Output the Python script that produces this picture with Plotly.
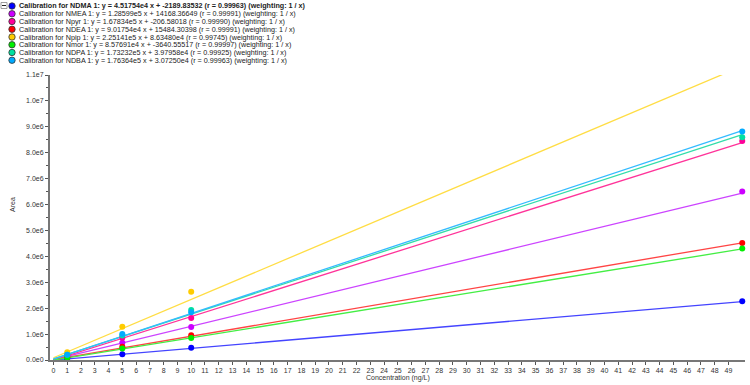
import plotly.graph_objects as go

# ---------------- data ----------------
names = ["NDMA", "NMEA", "Npyr", "NDEA", "Npip", "Nmor", "NDPA", "NDBA"]
slope_str = ["4.51754e4", "1.28599e5", "1.67834e5", "9.01754e4", "2.25141e5", "8.57691e4", "1.73232e5", "1.76364e5"]
intercept_str = ["-2189.83532", "14168.36649", "-206.58018", "15484.30398", "8.63480e4", "-3640.55517", "3.97958e4", "3.07250e4"]
r_str = ["0.99963", "0.99991", "0.99990", "0.99991", "0.99745", "0.99997", "0.99925", "0.99963"]
colors = ["#0000ff", "#cc00ff", "#ff0099", "#ff0000", "#ffcc00", "#00ee00", "#00e0a0", "#00aaff"]
line_colors = ["#4444ff", "#cc44ff", "#ff3399", "#ff4444", "#ffdd44", "#44ee44", "#33ddaa", "#33bbff"]

conc = [1, 5, 10, 50]
areas = {
    "NDMA": [0.045e6, 0.22e6, 0.47e6, 2.27e6],
    "NMEA": [0.14e6, 0.67e6, 1.27e6, 6.50e6],
    "Npyr": [0.17e6, 0.86e6, 1.62e6, 8.45e6],
    "NDEA": [0.10e6, 0.51e6, 0.96e6, 4.52e6],
    "Npip": [0.30e6, 1.28e6, 2.63e6, 11.03e6],
    "Nmor": [0.09e6, 0.44e6, 0.85e6, 4.30e6],
    "NDPA": [0.20e6, 0.95e6, 1.93e6, 8.60e6],
    "NDBA": [0.20e6, 1.00e6, 1.84e6, 8.82e6],
}
line_x = [0, 50]

y_tickvals = [0, 1e6, 2e6, 3e6, 4e6, 5e6, 6e6, 7e6, 8e6, 9e6, 1e7, 1.1e7]
y_ticktext = ["0.0e0", "1.0e6", "2.0e6", "3.0e6", "4.0e6", "5.0e6", "6.0e6",
              "7.0e6", "8.0e6", "9.0e6", "1.0e7", "1.1e7"]
x_tickvals = list(range(0, 50))

# ---------------- layout constants ----------------
W, H = 750, 385
ML, MR, MT, MB = 50, 5, 75, 25
PW, PH = W - ML - MR, H - MT - MB
FONT = "Liberation Sans, Arial, sans-serif"


def px_to_paper(px, py):
    return (px - ML) / PW, (H - MB - py) / PH


fig = go.Figure()

for i, n in enumerate(names):
    m = float(slope_str[i])
    b = float(intercept_str[i])
    fig.add_trace(go.Scatter(
        x=line_x, y=[m * xx + b for xx in line_x], mode="lines",
        line=dict(color=line_colors[i], width=1.3), showlegend=False,
        hoverinfo="skip"))

for i, n in enumerate(names):
    fig.add_trace(go.Scatter(
        x=conc, y=areas[n], mode="markers",
        marker=dict(color=colors[i], size=6, line=dict(width=0)),
        name=n, showlegend=False, cliponaxis=False))

# ---------------- custom legend ----------------
shapes = []
annotations = []
row_y0, row_dy = 6.0, 7.75
for i, n in enumerate(names):
    py = row_y0 + i * row_dy
    mx, my = px_to_paper(12, py)
    shapes.append(dict(type="circle", xref="paper", yref="paper",
                       xsizemode="pixel", ysizemode="pixel",
                       xanchor=mx, yanchor=my, x0=-3.2, x1=3.2, y0=-3.2, y1=3.2,
                       fillcolor=colors[i], line=dict(color="#333333", width=0.8)))
    txt = (f"Calibration for {n} 1: y = {slope_str[i]} x + {intercept_str[i]} "
           f"(r = {r_str[i]}) (weighting: 1 / x)")
    if i == 0:
        txt = "<b>" + txt + "</b>"
    tx, ty = px_to_paper(17, py)
    annotations.append(dict(text=txt, xref="paper", yref="paper", x=tx, y=ty,
                            xanchor="left", yanchor="middle", showarrow=False,
                            font=dict(family=FONT, size=7.2, color="#222222")))

# collapse box
bx, by = px_to_paper(4, 5.5)
shapes.append(dict(type="rect", xref="paper", yref="paper",
                   xsizemode="pixel", ysizemode="pixel",
                   xanchor=bx, yanchor=by, x0=-3, x1=3, y0=-3, y1=3,
                   fillcolor="white", line=dict(color="#888888", width=0.8)))
shapes.append(dict(type="line", xref="paper", yref="paper",
                   xsizemode="pixel", ysizemode="pixel",
                   xanchor=bx, yanchor=by, x0=-2, x1=2, y0=0, y1=0,
                   line=dict(color="#222222", width=1)))

# axis titles
ax_x, ax_y = px_to_paper(398, 378)
annotations.append(dict(text="Concentration (ng/L)", xref="paper", yref="paper",
                        x=ax_x, y=ax_y, xanchor="center", yanchor="middle",
                        showarrow=False, font=dict(family=FONT, size=7, color="#333333")))
ay_x, ay_y = px_to_paper(12, 205)
annotations.append(dict(text="Area", xref="paper", yref="paper", x=ay_x, y=ay_y,
                        xanchor="center", yanchor="middle", textangle=-90,
                        showarrow=False, font=dict(family=FONT, size=7, color="#333333")))

fig.update_layout(
    width=W, height=H,
    margin=dict(l=ML, r=MR, t=MT, b=MB, pad=0),
    paper_bgcolor="white", plot_bgcolor="white",
    showlegend=False,
    shapes=shapes, annotations=annotations,
    font=dict(family=FONT, size=7, color="#333333"),
)
fig.update_xaxes(
    range=[-0.25, 50.2], tickvals=x_tickvals, ticktext=[str(v) for v in x_tickvals],
    showgrid=False, zeroline=False, showline=True, linecolor="#777777", linewidth=2,
    ticks="outside", ticklen=3, tickwidth=1, tickcolor="#555555",
    tickfont=dict(family=FONT, size=7, color="#333333"),
)
fig.update_yaxes(
    range=[0, 1.1e7], tickvals=y_tickvals, ticktext=y_ticktext,
    showgrid=False, zeroline=False, showline=True, linecolor="#777777", linewidth=2,
    ticks="outside", ticklen=3, tickwidth=1, tickcolor="#555555",
    minor=dict(tickvals=[v + 5e5 for v in y_tickvals[:-1]], ticks="outside",
               ticklen=2, tickcolor="#555555", showgrid=False),
    tickfont=dict(family=FONT, size=7, color="#333333"),
)

fig.write_html("out.html")
